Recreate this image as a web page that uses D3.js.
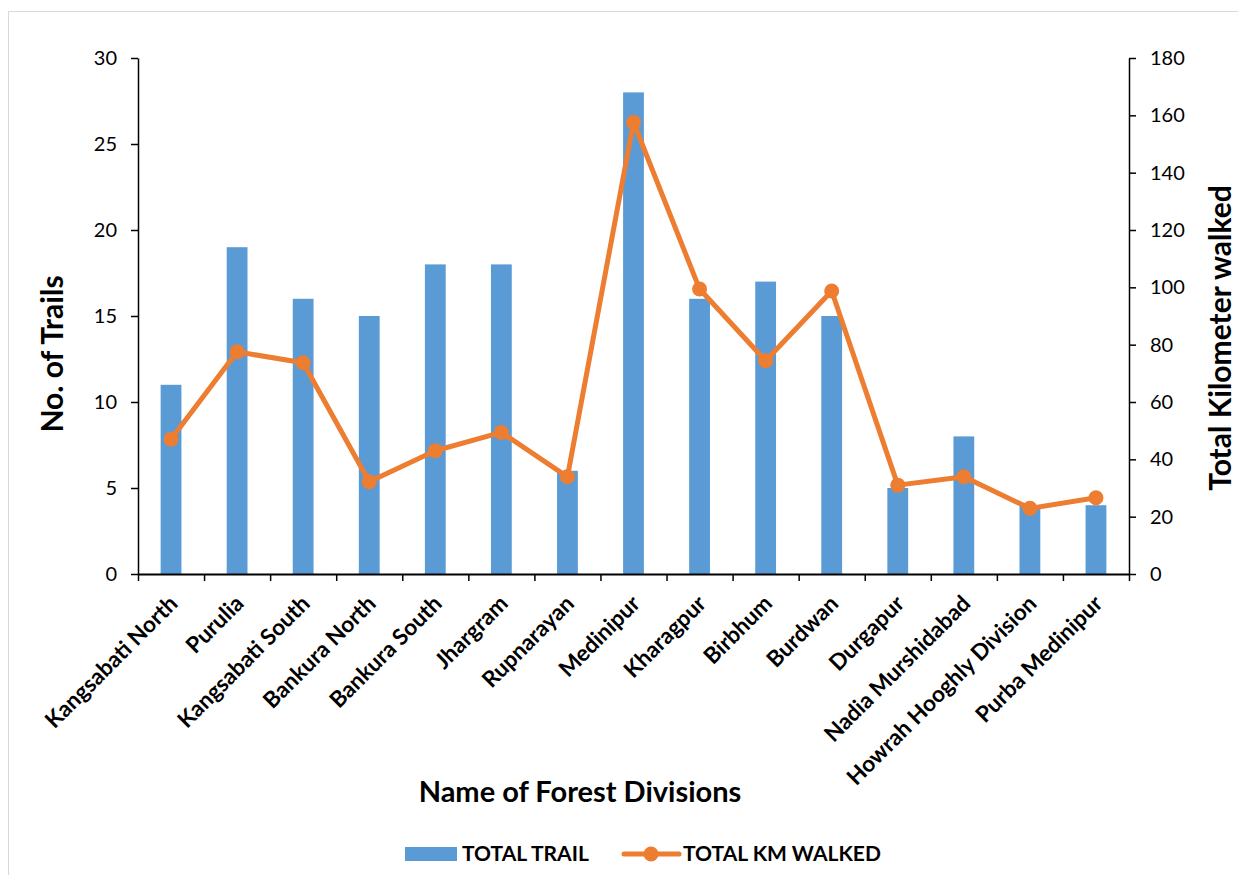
<!DOCTYPE html>
<html>
<head>
<meta charset="utf-8">
<script src="https://cdn.jsdelivr.net/npm/d3@7"></script>
<style>
  html, body { margin: 0; padding: 0; background: #fff; }
  svg { display: block; font-family: Lato, "Open Sans", sans-serif; }
</style>
</head>
<body>
<svg id="chart" width="1238" height="875"></svg>
<script>
// Forest divisions along the category axis
const divisions = [
  "Kangsabati North", "Purulia", "Kangsabati South", "Bankura North",
  "Bankura South", "Jhargram", "Rupnarayan", "Medinipur", "Kharagpur",
  "Birbhum", "Burdwan", "Durgapur", "Nadia Murshidabad",
  "Howrah Hooghly Division", "Purba Medinipur"
];
// Number of trails per division (left axis)
const totalTrail = [11, 19, 16, 15, 18, 18, 6, 28, 16, 17, 15, 5, 8, 4, 4];
// Kilometres walked per division (right axis)
const totalKmWalked = [47, 77.5, 73.7, 32.2, 43, 49.4, 33.9, 157.6, 99.4, 74.4, 98.7, 31, 33.9, 22.9, 26.6];
// Axis ticks
const trailTicks = [0, 5, 10, 15, 20, 25, 30];
const kmTicks = [0, 20, 40, 60, 80, 100, 120, 140, 160, 180];

const seriesNames = ["TOTAL TRAIL", "TOTAL KM WALKED"];
const barColor = "#5B9BD5";
const lineColor = "#ED7D31";

const svg = d3.select("#chart");

// chart area border
svg.append("rect")
  .attr("x", 8.5).attr("y", 11.5)
  .attr("width", 1240).attr("height", 880)
  .attr("fill", "none").attr("stroke", "#d9d9d9").attr("stroke-width", 1);

const plot = { left: 138, right: 1129, top: 58, bottom: 574 };

const x = d3.scaleBand().domain(divisions).range([plot.left, plot.right]).paddingInner(0).paddingOuter(0);
const xEdge = d3.scaleLinear().domain([0, divisions.length]).range([plot.left, plot.right]);
const yL = d3.scaleLinear().domain([0, 30]).range([plot.bottom, plot.top]);
const yR = d3.scaleLinear().domain([0, 180]).range([plot.bottom, plot.top]);

// bars
const barW = x.bandwidth() * 0.315;
svg.append("g").selectAll("rect")
  .data(divisions)
  .join("rect")
  .attr("x", (d) => x(d) + x.bandwidth() / 2 - barW / 2)
  .attr("y", (d, i) => yL(totalTrail[i]))
  .attr("width", barW)
  .attr("height", (d, i) => yL(0) - yL(totalTrail[i]))
  .attr("fill", barColor);

// left axis
const gL = svg.append("g")
  .attr("transform", `translate(${plot.left},0)`)
  .call(d3.axisLeft(yL).tickValues(trailTicks).tickSize(7).tickSizeOuter(0).tickPadding(14));
// right axis
const gR = svg.append("g")
  .attr("transform", `translate(${plot.right},0)`)
  .call(d3.axisRight(yR).tickValues(kmTicks).tickSize(7).tickSizeOuter(0).tickPadding(14));
// bottom axis: ticks at category boundaries
const gB = svg.append("g")
  .attr("transform", `translate(0,${plot.bottom})`)
  .call(d3.axisBottom(xEdge).tickValues(d3.range(divisions.length + 1)).tickSize(7).tickSizeOuter(0).tickFormat(""));

[gL, gR, gB].forEach((g) => {
  g.select(".domain").attr("stroke", "#000").attr("stroke-width", 1.5);
  g.selectAll(".tick line").attr("stroke", "#000").attr("stroke-width", 1.5);
  g.selectAll(".tick text").attr("fill", "#000").style("font-size", "20px").style("font-family", "Lato, sans-serif");
});
gB.select(".domain").attr("stroke-width", 2);

// category labels, rotated
svg.append("g").selectAll("text")
  .data(divisions)
  .join("text")
  .attr("transform", (d) => `translate(${x(d) + x.bandwidth() / 2 + 8},${plot.bottom + 31}) rotate(-45)`)
  .attr("text-anchor", "end")
  .style("font-size", "22.5px")
  .style("font-weight", "bold")
  .attr("fill", "#000")
  .text((d) => d);

// km line
const line = d3.line()
  .x((d, i) => x(divisions[i]) + x.bandwidth() / 2)
  .y((d) => yR(d));
svg.append("path")
  .datum(totalKmWalked)
  .attr("d", line)
  .attr("fill", "none")
  .attr("stroke", lineColor)
  .attr("stroke-width", 5)
  .attr("stroke-linejoin", "round");
svg.append("g").selectAll("circle")
  .data(totalKmWalked)
  .join("circle")
  .attr("cx", (d, i) => x(divisions[i]) + x.bandwidth() / 2)
  .attr("cy", (d) => yR(d))
  .attr("r", 7.5)
  .attr("fill", lineColor);

// axis titles
svg.append("text")
  .attr("transform", "translate(63,354) rotate(-90)")
  .attr("text-anchor", "middle")
  .style("font-size", "30px").style("font-weight", "bold")
  .text("No. of Trails");
svg.append("text")
  .attr("transform", "translate(1231,338) rotate(-90)")
  .attr("text-anchor", "middle")
  .style("font-size", "30px").style("font-weight", "bold")
  .text("Total Kilometer walked");
svg.append("text")
  .attr("x", 580).attr("y", 802)
  .attr("text-anchor", "middle")
  .style("font-size", "29px").style("font-weight", "bold")
  .text("Name of Forest Divisions");

// legend
const leg = svg.append("g");
leg.append("rect").attr("x", 405).attr("y", 847).attr("width", 52).attr("height", 14).attr("fill", barColor);
leg.append("text").attr("x", 462).attr("y", 861).style("font-size", "21px").style("font-weight", "bold").text(seriesNames[0]);
leg.append("line").attr("x1", 624).attr("x2", 679).attr("y1", 854).attr("y2", 854)
  .attr("stroke", lineColor).attr("stroke-width", 5).attr("stroke-linecap", "round");
leg.append("circle").attr("cx", 651).attr("cy", 854).attr("r", 7.5).attr("fill", lineColor);
leg.append("text").attr("x", 683).attr("y", 861).style("font-size", "21px").style("font-weight", "bold").text(seriesNames[1]);
</script>
</body>
</html>
